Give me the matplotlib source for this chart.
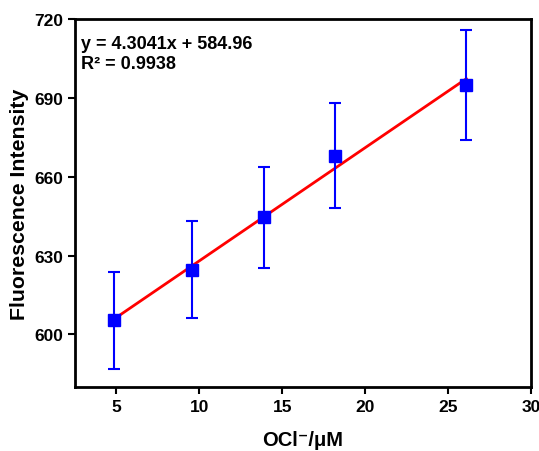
import matplotlib
matplotlib.use("Agg")
import matplotlib.pyplot as plt
import numpy as np

plt.rcParams['font.family'] = ['Liberation Sans', 'DejaVu Sans']
plt.rcParams['font.weight'] = 'bold'

conc = [4.88, 9.55, 13.92, 18.17, 26.1]
intensity = [605.3, 624.7, 644.6, 668.0, 694.9]
errors = [18.3, 18.5, 19.2, 20.0, 20.9]
slope = 4.3041
intercept = 584.96
r2_label = "R\u00b2 = 0.9938"
eq_label = "y = 4.3041x + 584.96"
xticks = [5, 10, 15, 20, 25, 30]
yticks = [600, 630, 660, 690, 720]

fig = plt.figure(figsize=(5.39, 4.52), dpi=100)
ax = fig.add_axes([75/539, (452-388)/452, (531-75)/539, (388-20)/452])

xfit = np.array([conc[0], conc[-1]])
ax.plot(xfit, slope*xfit + intercept, color='#ff0000', lw=2, zorder=2)
ax.errorbar(conc, intensity, yerr=errors, fmt='s', color='#0000ff', ms=8,
            ecolor='#0000ff', elinewidth=1.5, capsize=4, capthick=1.5, zorder=3)

ax.set_xlim(2.5, 30)
ax.set_ylim(580, 720)
ax.set_xticks(xticks)
ax.set_yticks(yticks)
for s in ax.spines.values():
    s.set_linewidth(2)
ax.tick_params(direction='out', width=1.5, length=5, labelsize=12.5)
for lbl in ax.get_xticklabels() + ax.get_yticklabels():
    lbl.set_fontweight('bold')

ax.set_xlabel("OCl\u207b/\u03bcM", fontsize=14.5, fontweight='bold', labelpad=12)
ax.set_ylabel("Fluorescence Intensity", fontsize=15.3, fontweight='bold', labelpad=4)
ax.text(0.013, 0.957, eq_label + "\n" + r2_label, transform=ax.transAxes,
        fontsize=13, fontweight='bold', va='top', ha='left', linespacing=1.25)

fig.savefig("out.png", dpi=100)
